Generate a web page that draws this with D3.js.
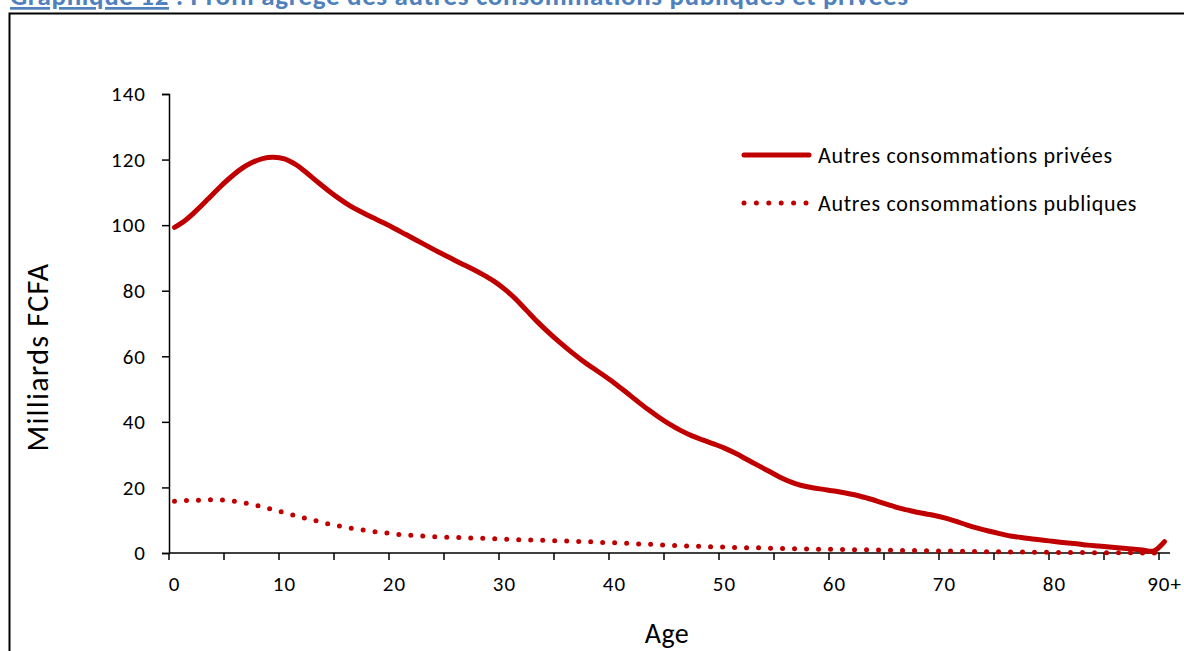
<!DOCTYPE html>
<html lang="fr">
<head>
    <meta charset="utf-8">
    <title>Graphique 12</title>
    <style>
        body { margin: 0; background: #fff; }
        svg text { font-family: Carlito, Calibri, Lato, sans-serif; fill: #000; }
    </style>
    <script src="https://d3js.org/d3.v7.min.js"></script>
</head>
<body>
<div id="chart"></div>
<script>
    // categories (ages) and the two series
    const ages = d3.range(0, 90).map(String).concat(["90+"]);
    const prive = [
        99.3, 101.5, 104.5, 107.8, 111.2, 114.3, 117.0, 119.0, 120.3, 120.7,
        120.2, 118.5, 116.0, 113.2, 110.5, 108.0, 105.8, 104.0, 102.3, 100.7,
        99.0, 97.2, 95.4, 93.6, 91.8, 90.1, 88.4, 86.8, 85.0, 83.0,
        80.5, 77.5, 74.0, 70.5, 67.3, 64.3, 61.5, 58.9, 56.5, 54.2,
        51.8, 49.2, 46.5, 43.9, 41.5, 39.3, 37.4, 35.8, 34.5, 33.3,
        32.0, 30.4, 28.6, 26.8, 25.0, 23.2, 21.7, 20.6, 19.9, 19.4,
        18.9, 18.3, 17.6, 16.7, 15.7, 14.6, 13.6, 12.8, 12.1, 11.5,
        10.7, 9.7, 8.6, 7.6, 6.7, 5.9, 5.2, 4.7, 4.3, 3.9,
        3.5, 3.1, 2.8, 2.4, 2.1, 1.8, 1.5, 1.2, 0.9, 0.6,
        3.5
    ];
    const publique = [
        15.8, 16.0, 16.1, 16.2, 16.2, 16.0, 15.5, 14.9, 14.1, 13.2,
        12.3, 11.4, 10.5, 9.7, 8.9, 8.2, 7.6, 7.1, 6.6, 6.2,
        5.8, 5.5, 5.3, 5.1, 4.9, 4.8, 4.7, 4.6, 4.5, 4.4,
        4.2, 4.1, 4.0, 3.9, 3.8, 3.7, 3.6, 3.5, 3.4, 3.2,
        3.1, 3.0, 2.8, 2.7, 2.5, 2.4, 2.2, 2.1, 2.0, 1.9,
        1.8, 1.7, 1.6, 1.6, 1.5, 1.4, 1.35, 1.3, 1.2, 1.15,
        1.1, 1.05, 1.0, 0.95, 0.9, 0.85, 0.8, 0.75, 0.7, 0.65,
        0.6, 0.55, 0.5, 0.45, 0.4, 0.35, 0.3, 0.3, 0.25, 0.2,
        0.2, 0.15, 0.15, 0.1, 0.1, 0.1, 0.05, 0.05, 0.0, 0.0,
        0.2
    ];
    const yTicks = [0, 20, 40, 60, 80, 100, 120, 140];
    const xLabels = ["0", "10", "20", "30", "40", "50", "60", "70", "80", "90+"];
    const seriesNames = ["Autres consommations privées", "Autres consommations publiques"];

    const W = 1184, H = 651;
    const red = "#C00000";
    const plot = {left: 169, right: 1170, top: 94, bottom: 553};

    const svg = d3.select("#chart").append("svg")
        .attr("width", W)
        .attr("height", H);

    // title, mostly cut off at the top of the picture
    const title = svg.append("text")
        .attr("x", 10)
        .attr("y", 5)
        .style("font-size", "27px")
        .style("font-weight", "bold")
        .style("letter-spacing", "0.65px")
        .style("fill", "#4F81BD");
    title.append("tspan")
        .style("text-decoration", "underline")
        .style("fill", "#4F81BD")
        .text("Graphique 12");
    title.append("tspan")
        .style("fill", "#4F81BD")
        .text(" : Profil agrégé des autres consommations publiques et privées");

    // frame of the chart area
    svg.append("rect")
        .attr("x", 9.5)
        .attr("y", 13.5)
        .attr("width", W + 20)
        .attr("height", H + 20)
        .attr("fill", "none")
        .attr("stroke", "#000")
        .attr("stroke-width", 2);

    const x = d3.scaleBand()
        .domain(ages)
        .range([plot.left, plot.right])
        .paddingInner(0)
        .paddingOuter(0);
    const cx = d => x(d) + x.bandwidth() / 2;

    const y = d3.scaleLinear()
        .domain([0, 140])
        .range([plot.bottom, plot.top]);

    // y axis
    const yAxis = svg.append("g")
        .attr("transform", `translate(${plot.left},0)`)
        .call(d3.axisLeft(y).tickValues(yTicks).tickSize(7).tickPadding(16));
    yAxis.select(".domain").attr("stroke", "#000").attr("stroke-width", 1.5);
    yAxis.selectAll(".tick line").attr("stroke", "#000").attr("stroke-width", 1.5);
    yAxis.selectAll("text")
        .style("font-size", "21px")
        .style("letter-spacing", "1px")
        .attr("fill", "#000");

    // x axis: tick marks every 5 categories, between categories
    const tickAges = ages.filter((d, i) => i % 5 === 0);
    const xAxis = svg.append("g")
        .attr("transform", `translate(0,${plot.bottom})`);
    xAxis.append("line")
        .attr("x1", plot.left).attr("x2", plot.right)
        .attr("stroke", "#000").attr("stroke-width", 1.5);
    xAxis.selectAll("line.tick")
        .data(tickAges)
        .join("line")
        .attr("class", "tick")
        .attr("x1", d => x(d)).attr("x2", d => x(d))
        .attr("y1", 0).attr("y2", 7)
        .attr("stroke", "#000").attr("stroke-width", 1.5);
    xAxis.selectAll("text")
        .data(xLabels)
        .join("text")
        .attr("x", d => cx(d))
        .attr("y", 38)
        .attr("text-anchor", "middle")
        .style("font-size", "21px")
        .style("letter-spacing", "1px")
        .text(d => d);

    // axis titles
    svg.append("text")
        .attr("transform", "translate(48,357) rotate(-90)")
        .attr("text-anchor", "middle")
        .style("font-size", "30px")
        .style("letter-spacing", "1.3px")
        .text("Milliards FCFA");
    svg.append("text")
        .attr("x", 667)
        .attr("y", 643)
        .attr("text-anchor", "middle")
        .style("font-size", "28px")
        .style("letter-spacing", "0.5px")
        .text("Age");

    const line = d3.line()
        .x((d, i) => cx(ages[i]))
        .y(d => y(d))
        .curve(d3.curveCatmullRom.alpha(0.5));

    svg.append("path")
        .datum(publique)
        .attr("fill", "none")
        .attr("stroke", red)
        .attr("stroke-width", 5)
        .attr("stroke-linecap", "round")
        .attr("stroke-dasharray", "0 12")
        .attr("d", line);

    svg.append("path")
        .datum(prive)
        .attr("fill", "none")
        .attr("stroke", red)
        .attr("stroke-width", 5)
        .attr("stroke-linecap", "round")
        .attr("stroke-linejoin", "round")
        .attr("d", line);

    // legend
    const legend = svg.append("g");
    legend.append("line")
        .attr("x1", 744).attr("x2", 809)
        .attr("y1", 155).attr("y2", 155)
        .attr("stroke", red).attr("stroke-width", 5)
        .attr("stroke-linecap", "round");
    legend.append("line")
        .attr("x1", 744).attr("x2", 808)
        .attr("y1", 203).attr("y2", 203)
        .attr("stroke", red).attr("stroke-width", 5)
        .attr("stroke-linecap", "round")
        .attr("stroke-dasharray", "0 12.4");
    legend.selectAll("text.lg")
        .data(seriesNames)
        .join("text")
        .attr("class", "lg")
        .attr("x", 818)
        .attr("y", (d, i) => 163 + i * 48)
        .style("font-size", "22px")
        .style("letter-spacing", "0.7px")
        .text(d => d);
</script>
</body>
</html>
